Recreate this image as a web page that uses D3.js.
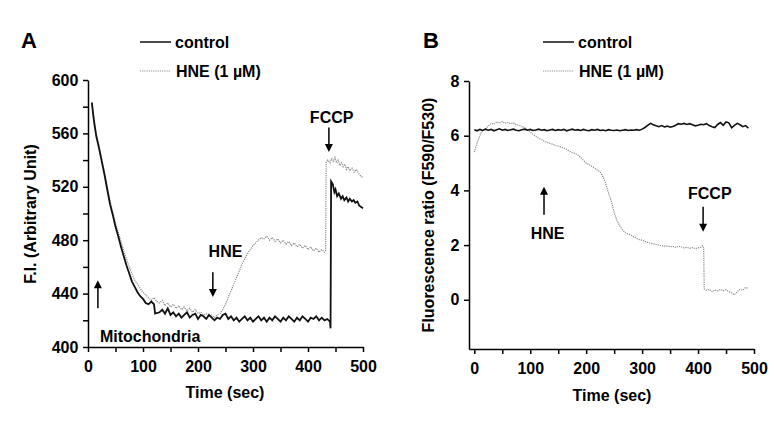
<!DOCTYPE html>
<html><head><meta charset="utf-8">
<script src="https://cdn.jsdelivr.net/npm/d3@7"></script>
<style>
body{margin:0;background:#fff;}
text{font-family:"Liberation Sans",Arial,sans-serif;font-weight:bold;}
</style></head><body>
<svg id="c" width="775" height="425"></svg>
<script>
// ---------- Panel A data ----------
const timeA_ctrl = [7,10,12,15,20,25,30,35,40,45,50,55,60,65,70,75,80,85,90,95,100,105,110,115,120,122,130,135,140,145,150,155,160,165,170,175,180,185,190,195,200,205,210,215,220,225,230,235,240,245,250,255,260,265,270,275,280,285,290,295,300,305,310,315,320,325,330,335,340,345,350,355,360,365,370,375,380,385,390,395,400,405,410,415,420,425,430,435,440,441,442,445,448,450,453,456,460,463,466,470,473,476,480,483,486,490,493,496,500];
const valA_ctrl = [583,572,566,558,549,539,529,518,507,499,490,483,475,468,461,455,449,445,441,438,436,433,432,434,432,425,426,428,425,429,424,426,423,425,422,424,426,422,424,425,421,424,423,421,424,422,420,422,421,424,425,421,423,420,422,419,421,423,420,422,419,421,423,420,422,419,422,420,423,421,419,422,420,423,421,419,422,420,423,421,419,422,421,423,420,422,420,421,419,414,524,522,516,518,513,515,511,513,510,512,509,511,509,510,508,509,506,505,504];
const timeA_hne = [7,10,12,15,20,25,30,35,40,45,50,55,60,65,70,75,80,85,90,95,100,105,110,115,120,125,130,135,140,145,150,155,160,165,170,175,180,185,190,195,200,205,210,215,220,225,230,235,240,245,250,255,260,265,270,275,280,285,290,295,300,305,310,315,320,325,330,335,340,345,350,355,360,365,370,375,380,385,390,395,400,405,410,415,420,425,430,432,433,436,440,443,446,449,452,455,458,461,464,467,470,473,476,480,484,488,492,496,500];
const valA_hne = [583,574,568,560,551,541,531,520,510,501,493,486,479,472,466,460,455,450,447,444,441,439,437,435,437,434,433,435,431,433,430,432,429,431,428,430,427,429,426,428,425,426,424,425,423,424,422,424,425,428,432,437,442,447,452,457,462,466,470,473,476,478,480,482,481,483,480,482,479,481,478,480,477,479,476,478,475,477,474,476,473,475,472,474,471,473,471,472,538,540,538,541,539,542,538,540,536,538,535,537,533,535,532,534,531,533,530,528,527];
const yTicksA = [400,440,480,520,560,600];
const xTicks = [0,100,200,300,400,500];

// ---------- Panel B data ----------
const timeB_ctrl = [0,5,10,15,20,25,30,35,40,45,50,55,60,65,70,75,80,85,90,95,100,105,110,115,120,125,130,135,140,145,150,155,160,165,170,175,180,185,190,195,200,205,210,215,220,225,230,235,240,245,250,255,260,265,270,275,280,285,290,295,300,305,310,315,320,325,330,335,340,345,350,355,360,365,370,375,380,385,390,395,400,405,410,415,420,425,430,435,440,445,450,455,460,465,470,475,480,485,490];
const valB_ctrl = [6.22,6.18,6.23,6.19,6.24,6.2,6.23,6.18,6.22,6.25,6.2,6.23,6.19,6.22,6.24,6.2,6.18,6.22,6.24,6.2,6.23,6.19,6.21,6.24,6.2,6.22,6.18,6.21,6.23,6.19,6.22,6.2,6.23,6.18,6.21,6.24,6.2,6.22,6.19,6.23,6.2,6.18,6.22,6.2,6.23,6.19,6.21,6.18,6.22,6.2,6.19,6.21,6.18,6.2,6.22,6.19,6.21,6.2,6.22,6.2,6.24,6.3,6.38,6.45,6.4,6.36,6.33,6.37,6.32,6.35,6.31,6.34,6.38,6.44,6.42,6.45,6.41,6.44,6.4,6.36,6.38,6.42,6.4,6.44,6.37,6.33,6.3,6.41,6.48,6.38,6.5,6.47,6.29,6.38,6.45,6.4,6.33,6.37,6.28];
const timeB_hne = [0,3,6,9,12,15,20,25,30,35,40,45,50,55,60,65,70,75,80,85,90,95,100,105,110,115,120,125,130,135,140,145,150,155,160,165,170,175,180,185,190,195,200,205,210,215,220,225,230,235,240,245,250,255,260,265,270,275,280,285,290,295,300,305,310,315,320,325,330,335,340,345,350,355,360,365,370,375,380,385,390,395,400,405,408,410,411,415,420,425,430,435,440,445,450,455,460,465,470,475,480,485,490];
const valB_hne = [5.4,5.6,5.8,5.95,6.1,6.2,6.25,6.35,6.45,6.42,6.5,6.46,6.52,6.45,6.48,6.44,6.47,6.4,6.38,6.33,6.3,6.22,6.15,6.04,5.98,5.9,5.86,5.8,5.76,5.72,5.69,5.64,5.62,5.58,5.55,5.5,5.44,5.38,5.35,5.3,5.2,5.1,5.0,4.95,4.88,4.82,4.74,4.68,4.5,4.25,3.9,3.6,3.2,2.9,2.7,2.55,2.45,2.4,2.36,2.3,2.25,2.2,2.18,2.14,2.1,2.07,2.05,2.02,2.0,1.98,1.96,1.97,1.94,1.95,1.92,1.96,1.93,1.9,1.92,1.88,1.91,1.87,1.9,1.92,1.98,1.9,0.4,0.35,0.38,0.3,0.36,0.32,0.38,0.33,0.37,0.3,0.25,0.18,0.3,0.38,0.35,0.45,0.42];
const yTicksB = [0,2,4,6,8];

const svg = d3.select("#c");

function panel(o){
  const g = svg.append("g");
  const x = d3.scaleLinear().domain(o.xDomain).range(o.xRange);
  const y = d3.scaleLinear().domain(o.yDomain).range(o.yRange);
  // x axis
  const xa = g.append("g").attr("transform",`translate(0,${o.yRange[0]})`)
    .call(d3.axisBottom(x).tickValues(d3.range(0,501,50)).tickSize(5).tickSizeOuter(0)
      .tickFormat(d=> xTicks.includes(d)? d : ""));
  // y axis
  const ya = g.append("g").attr("transform",`translate(${o.xRange[0]},0)`)
    .call(d3.axisLeft(y).tickValues(o.yTickAll).tickSize(5).tickSizeOuter(0)
      .tickFormat(d=> o.yTicks.includes(d)? d : ""));
  [xa,ya].forEach(a=>{
    a.selectAll("path,line").attr("stroke","#000").attr("stroke-width",1.5);
    a.selectAll("text").attr("fill","#000").style("font-size","16px").style("font-family","'Liberation Sans',Arial,sans-serif").style("font-weight","bold");
  });
  xa.selectAll("text").attr("dy","1.05em");
  ya.selectAll("text").attr("dx","-0.1em");
  const line = d3.line().x(d=>x(d[0])).y(d=>y(d[1]));
  g.append("path").datum(d3.zip(o.tH,o.vH)).attr("d",line)
    .attr("fill","none").attr("stroke","#8c8c8c").attr("stroke-width",1.2).attr("stroke-dasharray","1.2,1");
  g.append("path").datum(d3.zip(o.tC,o.vC)).attr("d",line)
    .attr("fill","none").attr("stroke","#111").attr("stroke-width",o.cw);
  // axis titles
  g.append("text").attr("x",o.xtX).attr("y",o.xtY).attr("text-anchor","middle").style("font-size","16px").text("Time (sec)");
  g.append("text").attr("transform",`translate(${o.ytX},${o.ytY}) rotate(-90)`).attr("text-anchor","middle").style("font-size","16px").text(o.yTitle);
  // panel letter
  g.append("text").attr("x",o.lx).attr("y",48).style("font-size","22px").text(o.letter);
  // legend
  g.append("line").attr("x1",o.legX).attr("x2",o.legX+31).attr("y1",42).attr("y2",42).attr("stroke","#111").attr("stroke-width",1.5);
  g.append("text").attr("x",o.legX+35).attr("y",48).style("font-size","16px").text("control");
  g.append("line").attr("x1",o.legX).attr("x2",o.legX+30).attr("y1",71).attr("y2",71).attr("stroke","#8c8c8c").attr("stroke-width",1.2).attr("stroke-dasharray","1.2,1");
  g.append("text").attr("x",o.legX+36).attr("y",77).style("font-size","16px").text("HNE  (1 \u00b5M)");
  // annotations
  o.arrows.forEach(a=>{
    const x0=x(a.t), yT=y(a.tail), yH=y(a.head);
    const dir = yH>yT?1:-1;
    g.append("line").attr("x1",x0).attr("x2",x0).attr("y1",yT).attr("y2",yH-dir*7).attr("stroke","#000").attr("stroke-width",1.5);
    g.append("path").attr("d",`M${x0-4},${yH-dir*8}L${x0+4},${yH-dir*8}L${x0},${yH}Z`).attr("fill","#000");
  });
  o.labels.forEach(l=>{
    g.append("text").attr("x",x(l.t)).attr("y",y(l.v)).attr("text-anchor",l.anchor).style("font-size","16px").text(l.text);
  });
}

panel({
  xDomain:[0,500], xRange:[88,363], yDomain:[400,600], yRange:[347,80],
  yTickAll:d3.range(400,601,20), yTicks:yTicksA,
  tC:timeA_ctrl, vC:valA_ctrl, tH:timeA_hne, vH:valA_hne, cw:1.8,
  xtX:225, xtY:398, ytX:36, ytY:214, yTitle:"F.I. (Arbitrary Unit)",
  letter:"A", lx:21, legX:140,
  arrows:[{t:438,tail:564.5,head:546},{t:227,tail:456,head:437.5},{t:18,tail:429,head:450}],
  labels:[{t:443,v:567.8,text:"FCCP",anchor:"middle"},{t:250,v:467.4,text:"HNE",anchor:"middle"},{t:21.8,v:403.7,text:"Mitochondria",anchor:"start"}]
});

panel({
  xDomain:[-9.5,500], xRange:[469,754], yDomain:[-1.8,8], yRange:[349,81],
  yTickAll:yTicksB, yTicks:yTicksB,
  tC:timeB_ctrl, vC:valB_ctrl, tH:timeB_hne, vH:valB_hne, cw:1.6,
  xtX:612, xtY:401, ytX:434, ytY:215, yTitle:"Fluorescence ratio  (F590/F530)",
  letter:"B", lx:423, legX:543,
  arrows:[{t:124.6,tail:3.11,head:4.13},{t:409,tail:3.4,head:2.49}],
  labels:[{t:131,v:2.23,text:"HNE",anchor:"middle"},{t:421,v:3.69,text:"FCCP",anchor:"middle"}]
});
</script></body></html>
